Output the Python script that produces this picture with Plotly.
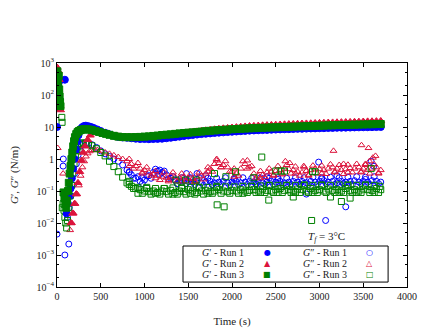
import plotly.graph_objects as go

FONT = "Liberation Serif, DejaVu Serif, serif"
BLUE = "#0000ff"
RED = "#dc143c"
GREEN = "#008000"

# shared time grids for the late (plateau) part, s
T_LATE = [800, 850, 900, 950, 1000, 1050, 1100, 1150, 1200, 1250,
          1300, 1350, 1400, 1450, 1500, 1550, 1600, 1650, 1700, 1750,
          1800, 1850, 1900, 1950, 2000, 2050, 2100, 2150, 2200, 2250,
          2300, 2350, 2400, 2450, 2500, 2550, 2600, 2650, 2700, 2750,
          2800, 2850, 2900, 2950, 3000, 3050, 3100, 3150, 3200, 3250,
          3300, 3350, 3400, 3450, 3500, 3550, 3600, 3650, 3700]
T_LATE2 = [825, 875, 925, 975, 1025, 1075, 1125, 1175, 1225, 1275,
           1325, 1375, 1425, 1475, 1525, 1575, 1625, 1675, 1725, 1775,
           1825, 1875, 1925, 1975, 2025, 2075, 2125, 2175, 2225, 2275,
           2325, 2375, 2425, 2475, 2525, 2575, 2625, 2675, 2725, 2775,
           2825, 2875, 2925, 2975, 3025, 3075, 3125, 3175, 3225, 3275,
           3325, 3375, 3425, 3475, 3525, 3575, 3625, 3675]

# G' (storage) - Run 1
GP1_EARLY_T = [0, 3, 6, 10, 14, 18, 22, 26, 30, 90,
               110, 125, 140, 155, 170, 185, 200, 215, 230, 245,
               260, 275, 290, 310, 330, 360, 390, 420, 460, 500,
               550, 600, 650, 700, 750]
GP1_EARLY_V = [10, 300, 500, 200, 120, 60, 250, 80, 40, 300,
               0.02, 0.04, 0.07, 0.12, 0.25, 0.5, 1.0, 2.0, 3.5, 5.5,
               7.5, 9.0, 10.0, 10.8, 11.0, 10.6, 10.0, 9.3, 8.4, 7.5,
               6.6, 5.9, 5.3, 4.9, 4.7]
GP1_LATE = [4.6, 4.45, 4.3, 4.2, 4.2, 4.15, 4.2, 4.25, 4.3, 4.45,
            4.6, 4.8, 5.0, 5.2, 5.4, 5.6, 5.8, 6.0, 6.15, 6.3,
            6.5, 6.65, 6.8, 6.95, 7.1, 7.25, 7.4, 7.55, 7.7, 7.8,
            7.9, 8.0, 8.1, 8.2, 8.3, 8.4, 8.5, 8.55, 8.65, 8.75,
            8.8, 8.9, 9.0, 9.05, 9.15, 9.2, 9.3, 9.35, 9.45, 9.5,
            9.55, 9.6, 9.7, 9.75, 9.8, 9.85, 9.9, 9.95, 10.0]

# G' - Run 2
GP2_EARLY_T = [0, 5, 10, 15, 20, 25, 30, 35, 40,
               160, 180, 200, 220, 240, 260, 280, 300, 320, 350,
               380, 410, 450, 500, 550, 600, 650, 700, 750]
GP2_EARLY_V = [700, 400, 250, 550, 150, 300, 80, 45, 34,
               0.01, 0.02, 0.04, 0.08, 0.18, 0.4, 0.9, 1.6, 2.5, 4.0,
               5.5, 6.5, 7.0, 6.8, 6.3, 5.8, 5.4, 5.1, 5.0]
GP2_LATE = [4.9, 4.8, 4.75, 4.75, 4.8, 4.9, 5.05, 5.2, 5.4, 5.6,
            5.8, 6.0, 6.2, 6.5, 6.8, 7.0, 7.3, 7.6, 7.9, 8.2,
            8.5, 8.8, 9.1, 9.35, 9.6, 9.9, 10.2, 10.45, 10.7, 10.9,
            11.1, 11.3, 11.45, 11.65, 11.8, 12.0, 12.15, 12.3, 12.5, 12.65,
            12.8, 12.95, 13.1, 13.3, 13.45, 13.6, 13.8, 13.9, 14.05, 14.2,
            14.3, 14.45, 14.6, 14.7, 14.85, 15.0, 15.1, 15.25, 15.4]

# G' - Run 3
GP3_EARLY_T = [0, 4, 8, 12, 16, 20, 25, 30, 35, 40,
               75, 85, 95, 105, 115, 125, 135, 145, 155, 165,
               175, 185, 195, 205, 220, 235, 250, 270, 290, 310,
               340, 370, 400, 440, 480, 520, 560, 600, 650, 700,
               750]
GP3_EARLY_V = [350, 550, 250, 180, 120, 400, 150, 90, 60, 45,
               0.09, 0.06, 0.04, 0.03, 0.05, 0.1, 0.18, 0.35, 0.6, 1.0,
               1.6, 2.5, 3.6, 4.8, 6.0, 6.9, 7.5, 8.0, 8.3, 8.5,
               8.5, 8.3, 8.0, 7.5, 7.0, 6.5, 6.1, 5.7, 5.3, 5.0,
               4.85]
GP3_LATE = [4.8, 4.8, 4.85, 4.9, 5.0, 5.1, 5.25, 5.4, 5.6, 5.75,
            5.9, 6.1, 6.3, 6.5, 6.65, 6.8, 7.0, 7.2, 7.4, 7.6,
            7.8, 8.0, 8.15, 8.3, 8.5, 8.65, 8.8, 8.95, 9.1, 9.2,
            9.35, 9.45, 9.55, 9.7, 9.8, 9.9, 10.0, 10.1, 10.25, 10.35,
            10.5, 10.6, 10.7, 10.8, 10.95, 11.05, 11.2, 11.3, 11.4, 11.5,
            11.6, 11.7, 11.8, 11.9, 12.0, 12.1, 12.2, 12.3, 12.4]

# G'' (loss) - Run 1
GPP1_EARLY_T = [0, 70, 72, 90, 135, 120, 140, 160, 180, 200,
                220, 240, 260, 280, 300, 330, 360, 400, 450, 500,
                550, 600, 650, 700, 750]
GPP1_EARLY_V = [0.0045, 0.6, 1.0, 0.001, 0.0022, 0.015, 0.03, 0.07, 0.15, 0.35,
                0.7, 1.3, 2.0, 2.6, 3.0, 3.2, 3.1, 2.8, 2.3, 1.8,
                1.45, 1.2, 1.0, 0.85, 0.65]
GPP1_LATE = [0.45, 0.32, 0.25, 0.2, 0.22, 0.3, 0.38, 0.42, 0.38, 0.32,
             0.25, 0.22, 0.2, 0.21, 0.2, 0.19, 0.2, 0.18, 0.19, 0.2,
             0.18, 0.19, 0.2, 0.18, 0.19, 0.2, 0.18, 0.19, 0.2, 0.19,
             0.2, 0.18, 0.19, 0.2, 0.19, 0.2, 0.18, 0.19, 0.2, 0.19,
             0.2, 0.18, 0.2, 0.19, 0.2, 0.21, 0.19, 0.2, 0.18, 0.2,
             0.19, 0.2, 0.21, 0.19, 0.2, 0.19, 0.21, 0.2, 0.19]
GPP1_LATE2 = [0.4, 0.25, 0.28, 0.17, 0.3, 0.25, 0.48, 0.33, 0.42, 0.24,
              0.28, 0.17, 0.26, 0.17, 0.26, 0.16, 0.26, 0.15, 0.25, 0.16,
              0.25, 0.16, 0.26, 0.15, 0.25, 0.16, 0.26, 0.16, 0.25, 0.16,
              0.26, 0.16, 0.25, 0.16, 0.26, 0.16, 0.25, 0.16, 0.26, 0.16,
              0.26, 0.16, 0.27, 0.16, 0.26, 0.17, 0.27, 0.16, 0.26, 0.17,
              0.27, 0.16, 0.28, 0.17, 0.27, 0.16, 0.28, 0.17]
GPP1_EXTRA_T = [1480, 1600, 1700, 2400, 2850, 2990, 3070, 3200, 3300, 3590,
                3620, 825, 975, 1175, 1375, 1525, 1775, 2025, 2275, 2525,
                2775, 3025, 3275, 3525]
GPP1_EXTRA_V = [0.35, 0.35, 0.3, 0.28, 0.08, 0.8, 0.012, 0.3, 0.032, 0.85,
                0.6, 0.38, 0.26, 0.45, 0.17, 0.24, 0.16, 0.23, 0.17, 0.23,
                0.16, 0.24, 0.17, 0.23]

# G'' - Run 2
GPP2_EARLY_T = [3, 8, 12, 70, 150, 170, 190, 210, 230, 250,
                270, 290, 310, 330, 350, 375, 400, 430, 460, 500,
                550, 600, 650, 700, 750]
GPP2_EARLY_V = [750, 2.2, 400, 0.35, 0.006, 0.01, 0.02, 0.04, 0.08, 0.15,
                0.3, 0.55, 0.85, 1.2, 1.5, 1.75, 1.9, 1.95, 1.9, 1.8,
                1.6, 1.45, 1.3, 1.15, 1.0]
GPP2_LATE = [0.85, 0.7, 0.6, 0.5, 0.45, 0.38, 0.33, 0.3, 0.28, 0.26,
             0.3, 0.27, 0.25, 0.28, 0.25, 0.24, 0.27, 0.3, 0.35, 0.5,
             0.7, 0.75, 0.65, 0.55, 0.4, 0.35, 0.5, 0.7, 0.55, 0.35,
             0.3, 0.32, 0.38, 0.4, 0.42, 0.45, 0.5, 0.48, 0.45, 0.4,
             0.38, 0.42, 0.45, 0.5, 0.48, 0.45, 0.5, 0.55, 0.5, 0.45,
             0.48, 0.52, 0.5, 0.55, 0.5, 0.45, 0.5, 0.55, 0.45]
GPP2_LATE2 = [1.0, 0.5, 0.75, 0.38, 0.55, 0.3, 0.42, 0.22, 0.38, 0.2,
              0.38, 0.2, 0.35, 0.2, 0.33, 0.19, 0.38, 0.23, 0.55, 0.4,
              1.0, 0.55, 0.85, 0.4, 0.5, 0.3, 0.85, 0.5, 0.6, 0.26,
              0.42, 0.27, 0.5, 0.3, 0.6, 0.33, 0.65, 0.35, 0.58, 0.3,
              0.55, 0.32, 0.62, 0.35, 0.62, 0.34, 0.68, 0.38, 0.65, 0.34,
              0.66, 0.38, 0.7, 0.38, 0.65, 0.35, 0.68, 0.37]
GPP2_EXTRA_T = [825, 975, 1125, 1275, 1425, 1575, 1725, 1825, 1875, 2025,
                2175, 2325, 2475, 2575, 2610, 2660, 2725, 2820, 2875, 3025,
                3160, 3175, 3275, 3325, 3475, 3480, 3525, 3560, 3570, 3610,
                3640, 3675]
GPP2_EXTRA_V = [0.6, 0.35, 0.25, 0.22, 0.2, 0.2, 0.4, 0.9, 0.55, 0.28,
                0.9, 0.25, 0.32, 0.35, 0.85, 0.75, 0.35, 0.6, 0.3, 0.35,
                1.8, 0.4, 0.7, 0.38, 0.4, 2.7, 0.7, 2.2, 0.85, 1.1,
                1.25, 0.35]

# G'' - Run 3
GPP3_EARLY_T = [70, 80, 90, 100, 110, 120, 135, 150, 165, 180,
                195, 210, 225, 240, 260, 280, 300, 330, 360, 400,
                450, 500, 550, 600, 650, 700, 750]
GPP3_EARLY_V = [0.04, 0.025, 0.015, 0.01, 0.007, 0.012, 0.03, 0.07, 0.15, 0.35,
                0.7, 1.2, 1.8, 2.4, 2.9, 3.1, 3.2, 3.1, 2.9, 2.6,
                2.1, 1.6, 1.25, 0.85, 0.58, 0.4, 0.27]
GPP3_LATE = [0.18, 0.14, 0.12, 0.11, 0.1, 0.095, 0.1, 0.09, 0.1, 0.095,
             0.105, 0.09, 0.1, 0.095, 0.11, 0.1, 0.09, 0.1, 0.105, 0.095,
             0.1, 0.11, 0.1, 0.095, 0.105, 0.1, 0.11, 0.1, 0.105, 0.11,
             0.1, 0.115, 0.105, 0.1, 0.11, 0.12, 0.105, 0.11, 0.1, 0.115,
             0.11, 0.1, 0.12, 0.105, 0.11, 0.1, 0.115, 0.105, 0.11, 0.1,
             0.12, 0.105, 0.11, 0.1, 0.115, 0.11, 0.105, 0.12, 0.11]
GPP3_LATE2 = [0.2, 0.12, 0.13, 0.085, 0.12, 0.08, 0.12, 0.08, 0.12, 0.08,
              0.125, 0.08, 0.12, 0.08, 0.13, 0.08, 0.125, 0.08, 0.13, 0.085,
              0.13, 0.085, 0.135, 0.085, 0.135, 0.085, 0.14, 0.09, 0.14, 0.09,
              0.145, 0.09, 0.15, 0.09, 0.15, 0.09, 0.15, 0.09, 0.15, 0.09,
              0.155, 0.09, 0.15, 0.09, 0.155, 0.09, 0.15, 0.09, 0.155, 0.09,
              0.155, 0.09, 0.15, 0.09, 0.155, 0.09, 0.15, 0.09]
GPP3_EXTRA_T = [55, 58, 60, 825, 925, 1025, 1125, 1225, 1325,
                1360, 1425, 1470, 1525, 1590, 1625, 1725, 1800, 1825, 1830,
                1910, 1930, 2040, 2125, 2225, 2250, 2325, 2340, 2420, 2425,
                2500, 2525, 2560, 2600, 2625, 2700, 2725, 2825, 2910, 2920,
                2925, 2950, 3025, 3125, 3225, 3250, 3325, 3350, 3425, 3525,
                3590, 3625, 3690]
GPP3_EXTRA_V = [20, 14, 0.03, 0.16, 0.085, 0.13, 0.085, 0.12, 0.08,
                0.22, 0.13, 0.22, 0.085, 0.22, 0.13, 0.085, 0.35, 0.14, 0.037,
                0.032, 0.28, 0.4, 0.085, 0.14, 0.26, 0.09, 1.15, 0.052, 0.15,
                0.42, 0.09, 0.42, 0.42, 0.15, 0.065, 0.09, 0.15, 0.012, 0.4,
                0.09, 0.4, 0.15, 0.065, 0.09, 0.047, 0.15, 0.06, 0.09, 0.15,
                0.5, 0.09, 0.14]

Y_TICKS = [1e-4, 1e-3, 1e-2, 1e-1, 1, 10, 1e2, 1e3]
Y_TICKTEXT = ["10<sup>−4</sup>", "10<sup>−3</sup>", "10<sup>−2</sup>", "10<sup>−1</sup>",
              "1", "10", "10<sup>2</sup>", "10<sup>3</sup>"]
X_TICKS = [0, 500, 1000, 1500, 2000, 2500, 3000, 3500, 4000]

fig = go.Figure()


def add(t, v, color, symbol, size):
    fig.add_trace(go.Scatter(
        x=t, y=v, mode="markers", showlegend=False,
        marker=dict(color=color, symbol=symbol, size=size,
                    line=dict(color=color, width=1)),
    ))


# loss moduli first (open markers), then storage moduli
add(GPP1_EARLY_T + T_LATE + T_LATE2 + GPP1_EXTRA_T,
    GPP1_EARLY_V + GPP1_LATE + GPP1_LATE2 + GPP1_EXTRA_V, BLUE, "circle-open", 6)
add(GPP2_EARLY_T + T_LATE + T_LATE2 + GPP2_EXTRA_T,
    GPP2_EARLY_V + GPP2_LATE + GPP2_LATE2 + GPP2_EXTRA_V, RED, "triangle-up-open", 6)
add(GPP3_EARLY_T + T_LATE + T_LATE2 + GPP3_EXTRA_T,
    GPP3_EARLY_V + GPP3_LATE + GPP3_LATE2 + GPP3_EXTRA_V, GREEN, "square-open", 6)
add(GP1_EARLY_T + T_LATE, GP1_EARLY_V + GP1_LATE, BLUE, "circle", 7)
add(GP2_EARLY_T + T_LATE, GP2_EARLY_V + GP2_LATE, RED, "triangle-up", 7)
add(GP3_EARLY_T + T_LATE, GP3_EARLY_V + GP3_LATE, GREEN, "square", 7)

axis_common = dict(
    showline=True, linecolor="black", linewidth=1, mirror="ticks",
    ticks="inside", ticklen=4, tickcolor="black",
    showgrid=False, zeroline=False, automargin=False,
    tickfont=dict(family=FONT, size=10, color="#222"),
)

fig.update_xaxes(
    range=[0, 4000], tickvals=X_TICKS,
    title=dict(text="Time (s)", font=dict(family=FONT, size=11, color="#222"), standoff=16),
    **axis_common,
)
fig.update_yaxes(
    type="log", range=[-4, 3], tickvals=Y_TICKS, ticktext=Y_TICKTEXT,
    minor=dict(ticks="inside", ticklen=2, dtick="D2", tickcolor="black"),
    title=dict(text="<i>G</i>′, <i>G</i>″ (N/m)",
               font=dict(family=FONT, size=11, color="#222"), standoff=18),
    **axis_common,
)

# legend box drawn by hand (text left, symbol right, as in the original)
fig.add_shape(type="rect", xref="paper", yref="paper",
              x0=0.36, x1=0.946, y0=0.022, y1=0.183,
              line=dict(color="black", width=1), fillcolor="white")

rows_y = [0.156, 0.105, 0.054]
labels_l = ["<i>G</i>′ - Run 1", "<i>G</i>′ - Run 2", "<i>G</i>′ - Run 3"]
labels_r = ["<i>G</i>″ - Run 1", "<i>G</i>″ - Run 2", "<i>G</i>″ - Run 3"]
sym_l = [("●", BLUE), ("▲", RED), ("■", GREEN)]
sym_r = [("○", BLUE), ("△", RED), ("□", GREEN)]
for y, ll, lr, sl, sr in zip(rows_y, labels_l, labels_r, sym_l, sym_r):
    for x, txt in ((0.474, ll), (0.766, lr)):
        fig.add_annotation(x=x, y=y, xref="paper", yref="paper", text=txt,
                           xanchor="center", yanchor="middle", showarrow=False,
                           font=dict(family=FONT, size=10, color="#222"))
    for x, (s, c) in ((0.6, sl), (0.894, sr)):
        fig.add_annotation(x=x, y=y, xref="paper", yref="paper", text=s,
                           xanchor="center", yanchor="middle", showarrow=False,
                           font=dict(family="DejaVu Sans", size=8, color=c))

fig.add_annotation(x=0.77, y=0.224, xref="paper", yref="paper",
                   text="<i>T<sub>f</sub></i> = 3°C", showarrow=False,
                   xanchor="center", yanchor="middle",
                   font=dict(family=FONT, size=11, color="#222"))

# the page body adds an 8 px offset, so the figure is a little smaller
fig.update_layout(
    width=426, height=323,
    margin=dict(l=49, r=27, t=55, b=44),
    paper_bgcolor="white", plot_bgcolor="white",
    font=dict(family=FONT, size=10, color="#222"),
    showlegend=False,
)

fig.write_html("out.html")
